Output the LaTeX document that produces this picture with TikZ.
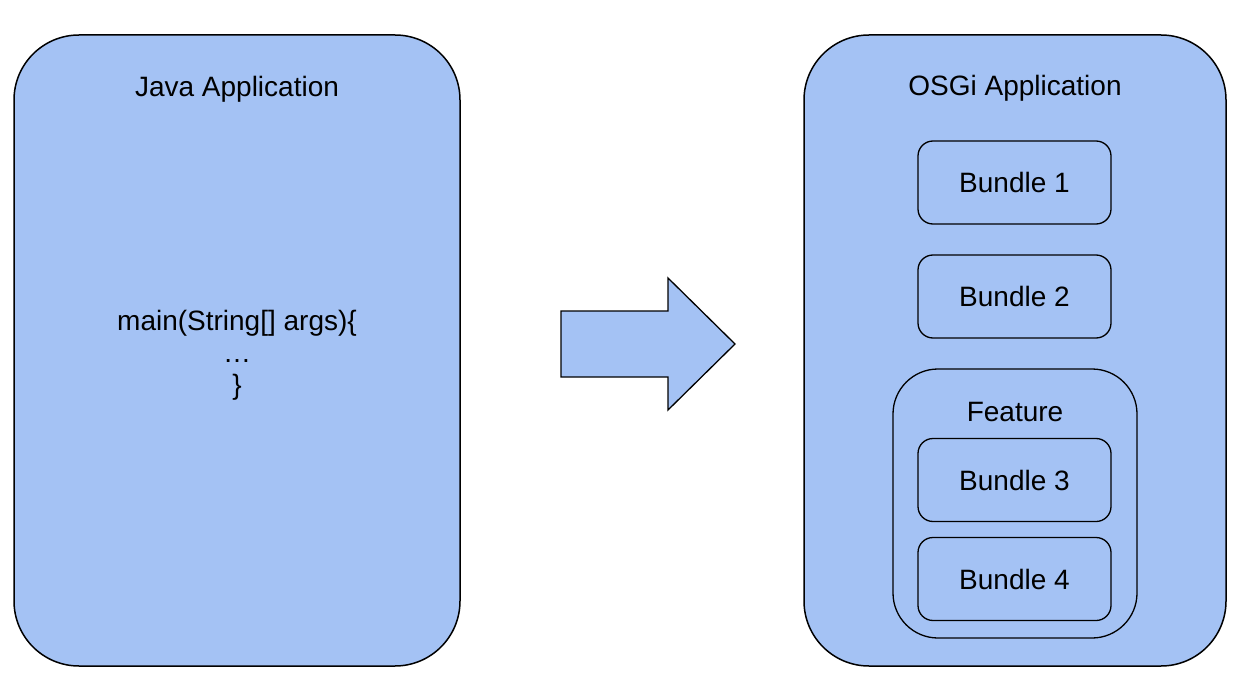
\documentclass[tikz,border=0pt]{standalone}
\usepackage{fontspec}
\setmainfont{Liberation Sans}
\definecolor{boxblue}{HTML}{A4C2F4}
\begin{document}
\begin{tikzpicture}[x=1pt,y=-1pt,
  txt/.style={font=\fontsize{28}{32}\selectfont, inner sep=0pt},
  panel/.style={draw=black, line width=1.5pt, fill=boxblue, rounded corners=65pt, inner sep=0pt},
  group/.style={draw=black, line width=1.3pt, fill=boxblue, rounded corners=45pt, inner sep=0pt},
  bundle/.style={draw=black, line width=1.3pt, fill=boxblue, rounded corners=15pt,
    minimum width=193pt, minimum height=83pt, inner sep=0pt, txt}]
\useasboundingbox (0,0) rectangle (1250,679);
\node[panel, minimum width=446pt, minimum height=631pt] (java) at (237,350.5) {};
\node[panel, minimum width=422pt, minimum height=631pt] (osgi) at (1015,350.5) {};
\node[txt] (javatitle) at (237,89.5) {Java Application};
\node[txt] (osgititle) at (1015,88) {OSGi Application};
\node[txt, align=center] (code) at (237,355) {main(String[] args)\{\\…\\\}};
\draw[fill=boxblue, line width=1.3pt, line join=miter]
  (561,311) -- (668,311) -- (668,278) -- (735,344) -- (668,410) -- (668,377) -- (561,377) -- cycle;
\node[bundle] (b1) at (1014.5,182.5) {\raisebox{-1.5pt}{Bundle 1}};
\node[bundle] (b2) at (1014.5,296.5) {\raisebox{-1.5pt}{Bundle 2}};
\node[group, minimum width=244pt, minimum height=269pt] (feature) at (1015,503.5) {};
\node[txt] (featuretitle) at (1015,412) {Feature};
\node[bundle] (b3) at (1014.5,480) {\raisebox{-1.5pt}{Bundle 3}};
\node[bundle] (b4) at (1014.5,579) {\raisebox{-1.5pt}{Bundle 4}};
\end{tikzpicture}
\end{document}
